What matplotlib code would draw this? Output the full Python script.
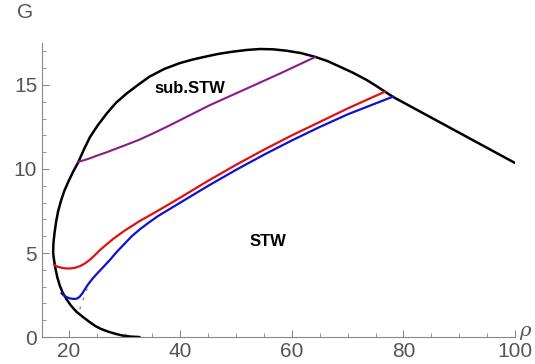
import matplotlib
matplotlib.use("Agg")
import matplotlib.pyplot as plt
from matplotlib.ticker import MultipleLocator

# region boundary (black), traced from lower branch round the top to the right edge
bound_rho = [32.7, 31.0, 29.5, 28.3, 27.0, 25.8, 24.8, 23.8, 22.6, 21.4, 20.4, 19.6,
             18.9, 18.4, 17.95, 17.6, 17.35, 17.2, 17.25, 17.45, 17.75, 18.1, 18.6,
             19.2, 20.0, 20.8, 21.7, 22.7, 23.8, 25.2, 26.8, 28.5, 30.4, 32.4, 34.5,
             37.1, 39.9, 42.3, 44.7, 47.0, 49.4, 51.8, 54.3, 56.7, 59.0, 61.6, 64.1,
             66.4, 68.6, 71.0, 73.4, 75.1, 76.7, 78.2, 100.0]
bound_G = [0.0, 0.03, 0.1, 0.2, 0.33, 0.48, 0.65, 0.88, 1.18, 1.5, 1.87, 2.25,
           2.65, 3.05, 3.55, 4.1, 4.6, 5.0, 5.6, 6.2, 6.9, 7.5, 8.1,
           8.7, 9.3, 9.85, 10.4, 11.15, 11.9, 12.6, 13.3, 13.95, 14.5, 15.0, 15.5,
           15.95, 16.3, 16.52, 16.7, 16.86, 16.98, 17.08, 17.14, 17.12, 17.04, 16.9, 16.68,
           16.42, 16.09, 15.72, 15.3, 14.95, 14.6, 14.28, 10.36]

red_rho = [17.4, 17.9, 18.5, 19.3, 20.2, 21.1, 22.0, 22.9, 23.8, 24.7, 25.6, 26.8,
           28.0, 30.0, 32.7, 36.0, 40.0, 45.0, 50.0, 55.0, 60.0, 65.0, 70.0, 74.0, 76.7]
red_G = [4.29, 4.2, 4.14, 4.09, 4.08, 4.12, 4.22, 4.38, 4.6, 4.88, 5.18, 5.52,
         5.85, 6.33, 6.9, 7.52, 8.3, 9.3, 10.25, 11.15, 12.0, 12.8, 13.6, 14.2, 14.6]

blue_rho = [18.7, 19.1, 19.6, 20.2, 20.8, 21.4, 21.9, 22.4, 22.9, 23.5, 24.2, 25.0,
            26.0, 27.4, 28.7, 30.0, 31.3, 32.7, 34.3, 36.0, 40.0, 45.0, 50.0, 55.0,
            60.0, 65.0, 70.0, 75.0, 78.1]
blue_G = [2.6, 2.48, 2.38, 2.3, 2.27, 2.28, 2.38, 2.58, 2.85, 3.15, 3.45, 3.75,
          4.1, 4.6, 5.1, 5.55, 6.0, 6.4, 6.8, 7.2, 8.0, 9.0, 9.95, 10.85,
          11.7, 12.5, 13.25, 13.9, 14.3]

purple_rho = [21.67, 22.3, 23.0, 24.0, 25.0, 26.5, 28.0, 30.0, 32.7, 35.0, 38.0,
              45.3, 52.0, 58.0, 64.1]
purple_G = [10.43, 10.48, 10.55, 10.66, 10.79, 10.96, 11.15, 11.4, 11.75, 12.1, 12.58,
            13.8, 14.8, 15.7, 16.65]

dash_rho = [23.3, 21.8]
dash_G = [2.9, 1.5]

fig = plt.figure(figsize=(5.35, 3.64), dpi=100)
ax = fig.add_axes([0.0785, 0.074, 0.884, 0.808])

ax.plot(bound_rho, bound_G, color="black", lw=1.8, solid_capstyle="round")
ax.plot(purple_rho, purple_G, color="#8a1a8a", lw=1.5)
ax.plot(red_rho, red_G, color="#e01010", lw=1.6)
ax.plot(blue_rho, blue_G, color="#1010d0", lw=1.6)
ax.plot(dash_rho, dash_G, color="#888888", lw=1.0, ls=(0, (2, 5)))

ax.text(41.7, 14.8, "sub.STW", fontsize=12, fontweight="bold",
        family="Liberation Sans", ha="center", va="center")
ax.text(55.7, 5.7, "STW", fontsize=12, fontweight="bold",
        family="Liberation Sans", ha="center", va="center")

ax.set_xlim(15.2, 100)
ax.set_ylim(0, 17.5)
for s in ["top", "right"]:
    ax.spines[s].set_visible(False)
for s in ["left", "bottom"]:
    ax.spines[s].set_color("#888888")
ax.xaxis.set_major_locator(MultipleLocator(20))
ax.xaxis.set_minor_locator(MultipleLocator(5))
ax.yaxis.set_major_locator(MultipleLocator(5))
ax.yaxis.set_minor_locator(MultipleLocator(1))
ax.tick_params(which="both", direction="in", colors="#888888", labelcolor="#555555",
               labelsize=15)
ax.tick_params(which="major", length=5)
ax.tick_params(which="minor", length=3)
for lab in ax.get_xticklabels() + ax.get_yticklabels():
    lab.set_family("Liberation Sans")

fig.text(25 / 535, 1 - 12 / 364, "G", fontsize=15, color="#555555",
         family="Liberation Sans", ha="center", va="center")
fig.text(531 / 535, 1 - 331 / 364, "ρ", fontsize=14, color="#555555",
         family="DejaVu Serif", style="italic", ha="right", va="center")

fig.savefig("out.png", dpi=100)
